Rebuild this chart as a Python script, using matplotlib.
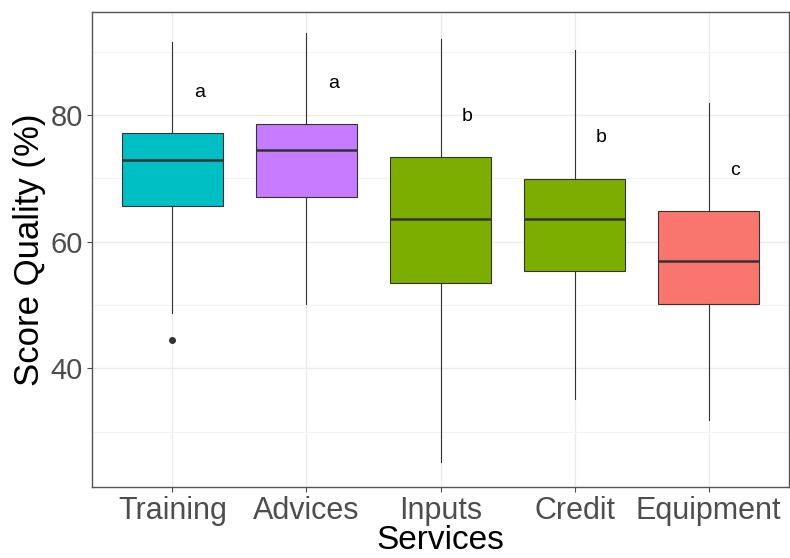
import matplotlib

matplotlib.use("Agg")
import matplotlib.pyplot as plt

services = ["Training", "Advices", "Inputs", "Credit", "Equipment"]
whisker_low = [48.8, 50.2, 25.2, 35.1, 31.8]
q1 = [65.7, 67.1, 53.4, 55.3, 50.1]
median = [72.9, 74.5, 63.5, 63.5, 56.9]
q3 = [77.2, 78.6, 73.4, 69.9, 64.9]
whisker_high = [91.5, 92.9, 92.0, 90.2, 81.9]
outliers = [[44.4], [], [], [], []]
groups = ["a", "a", "b", "b", "c"]
group_y = [83.5, 84.9, 79.7, 76.4, 71.2]
fills = ["#00BFC4", "#C77CFF", "#7CAE00", "#7CAE00", "#F8766D"]

plt.rcParams["font.family"] = ["Liberation Sans", "DejaVu Sans"]

fig = plt.figure(figsize=(7.9, 5.58), dpi=100)
ax = fig.add_axes([0.1165, 0.1272, 0.8822, 0.8513])

stats = []
for i, name in enumerate(services):
    stats.append({
        "label": name,
        "whislo": whisker_low[i],
        "q1": q1[i],
        "med": median[i],
        "q3": q3[i],
        "whishi": whisker_high[i],
        "fliers": outliers[i],
    })

positions = list(range(1, len(services) + 1))
bp = ax.bxp(
    stats,
    positions=positions,
    widths=0.75,
    patch_artist=True,
    showcaps=False,
    boxprops=dict(edgecolor="#333333", linewidth=0.8),
    medianprops=dict(color="#333333", linewidth=1.8),
    whiskerprops=dict(color="#333333", linewidth=0.8),
    flierprops=dict(marker="o", markerfacecolor="#333333", markeredgecolor="#333333", markersize=4),
    zorder=3,
)
for patch, color in zip(bp["boxes"], fills):
    patch.set_facecolor(color)

# compact letter display above each box
for x, g, y in zip(positions, groups, group_y):
    ax.text(x + 0.2, y, g, ha="center", va="center", fontsize=14, color="black")

ax.set_xlim(0.4, 5.6)
ax.set_ylim(21.26, 96.26)
ax.set_yticks([40, 60, 80])
ax.set_yticks([30, 50, 70, 90], minor=True)
ax.set_xticks(positions)
ax.set_xticklabels(services)

ax.grid(which="major", color="#EBEBEB", linewidth=1.0, zorder=0)
ax.grid(which="minor", axis="y", color="#F2F2F2", linewidth=0.8, zorder=0)
ax.set_axisbelow(True)
for spine in ax.spines.values():
    spine.set_color("#555555")
    spine.set_linewidth(1.0)

ax.tick_params(axis="both", which="major", colors="#4D4D4D", length=3.5, width=0.8, pad=3)
ax.tick_params(axis="x", labelsize=22)
ax.tick_params(axis="y", labelsize=21)
ax.tick_params(axis="y", which="minor", length=0)
ax.set_xlabel("Services", fontsize=24, labelpad=-1)
ax.set_ylabel("Score Quality (%)", fontsize=25, labelpad=3)

fig.savefig("out.png", dpi=100)
